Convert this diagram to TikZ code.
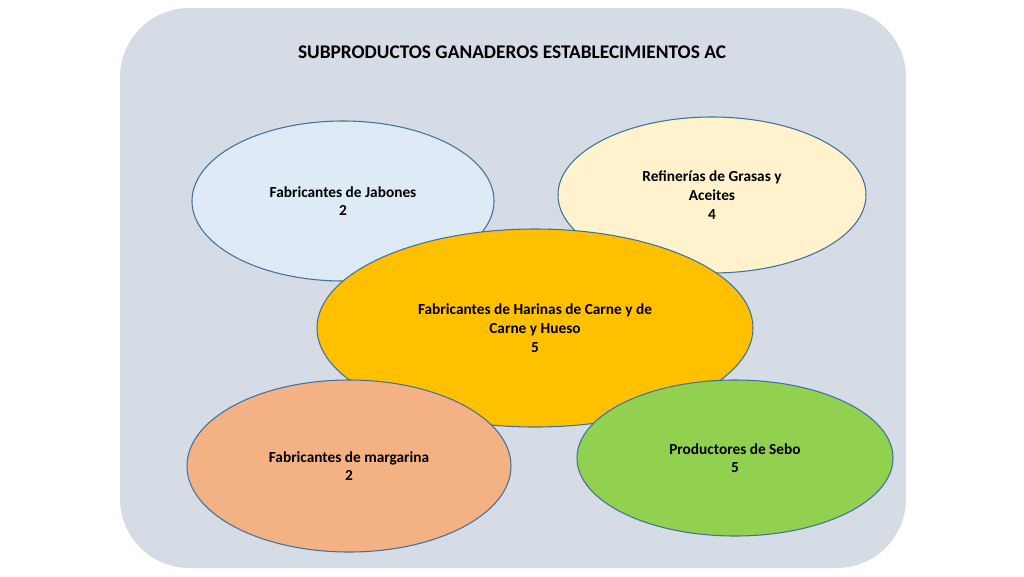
\documentclass[tikz,border=0pt]{standalone}
\usepackage{fontspec}
\setmainfont{Carlito}
\usetikzlibrary{shapes.geometric}
\definecolor{bgc}{HTML}{D6DCE5}
\definecolor{edgec}{HTML}{41719C}
\tikzset{ell/.style={ellipse,draw=edgec,line width=0.8pt,align=center,font=\bfseries\fontsize{11.5}{14}\selectfont,inner sep=0pt}}
\begin{document}
\begin{tikzpicture}[x=0.75pt,y=-0.75pt]
\useasboundingbox (0,0) rectangle (1024,576);
\fill[white] (0,0) rectangle (1024,576);
\fill[bgc,rounded corners=52pt] (120,8) rectangle (906,568);
\node[font=\bfseries\fontsize{14.5}{17}\selectfont] (title) at (512,52) {SUBPRODUCTOS GANADEROS ESTABLECIMIENTOS AC};
\node[ell,fill=blue!8!cyan!5!white,fill={rgb,255:red,222;green,235;blue,247},minimum width=302*0.75pt,minimum height=160*0.75pt] (jab) at (343,201) {Fabricantes de Jabones\\2};
\node[ell,fill={rgb,255:red,255;green,242;blue,204},minimum width=308*0.75pt,minimum height=156*0.75pt] (ref) at (712,195) {Refinerías de Grasas y\\Aceites\\4};
\node[ell,fill={rgb,255:red,255;green,192;blue,0},minimum width=436*0.75pt,minimum height=198*0.75pt] (har) at (535,328) {Fabricantes de Harinas de Carne y de\\Carne y Hueso\\5};
\node[ell,fill={rgb,255:red,244;green,177;blue,131},minimum width=324*0.75pt,minimum height=172*0.75pt] (mar) at (349,466) {Fabricantes de margarina\\2};
\node[ell,fill={rgb,255:red,146;green,208;blue,80},minimum width=316*0.75pt,minimum height=156*0.75pt] (seb) at (735,458) {Productores de Sebo\\5};
\end{tikzpicture}
\end{document}
